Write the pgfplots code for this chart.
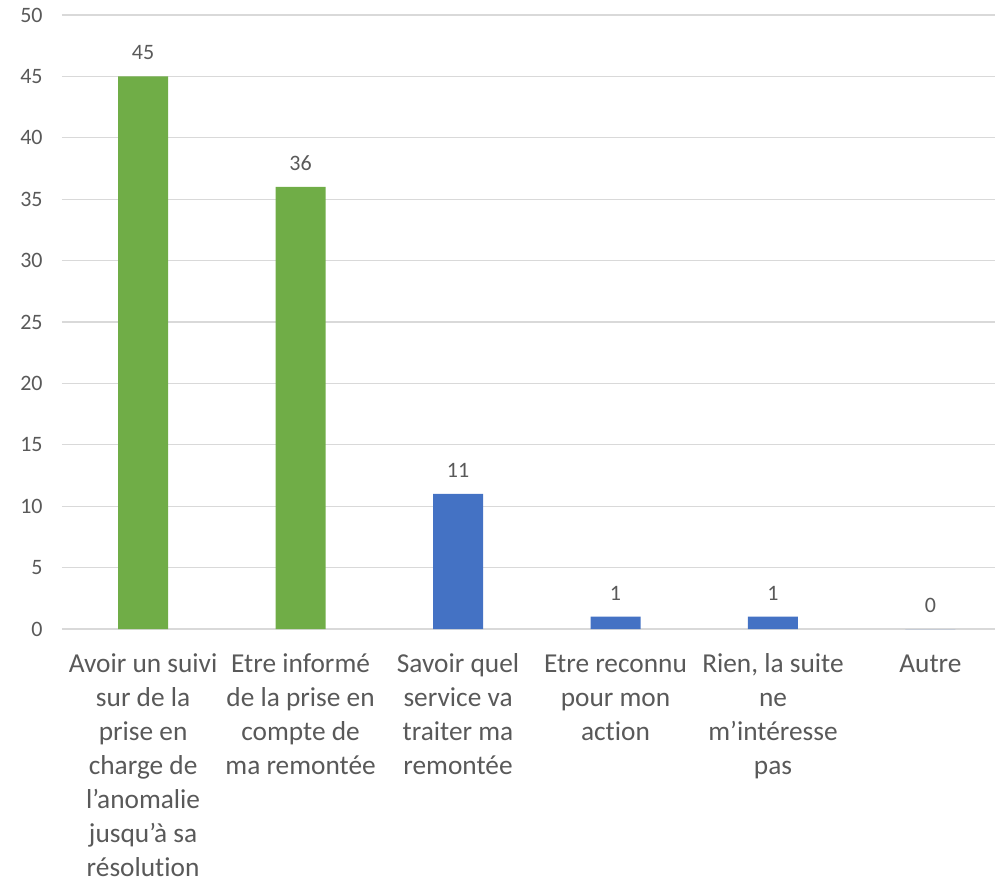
\documentclass[border=0pt]{standalone}
\usepackage{pgfplots}
\pgfplotsset{compat=1.18}
\usepackage{fontspec}
\setmainfont{Carlito}[Ligatures={NoCommon}]
\definecolor{txt}{HTML}{595959}
\definecolor{gridc}{HTML}{D9D9D9}
\definecolor{xgreen}{HTML}{70AD47}
\definecolor{xblue}{HTML}{4472C4}

\begin{document}
\begin{tikzpicture}
% page = 1002 x 885 px at 0.75pt per px
\path[use as bounding box] (0,0) rectangle (751.5pt,663.75pt);
\begin{axis}[
    at={(46.5pt,192pt)}, anchor=south west,
    scale only axis,
    width=699.75pt, height=460.5pt,
    xmin=-0.515, xmax=5.41,
    ymin=0, ymax=50,
    ytick={0,5,...,50},
    xtick={0,...,5},
    xticklabels={
        {\strut Avoir un suivi\\sur de la\\prise en\\charge de\\l’anomalie\\jusqu’à sa\\résolution},
        {\strut Etre informé\\de la prise en\\compte de\\ma remontée},
        {\strut Savoir quel\\service va\\traiter ma\\remontée},
        {\strut Etre reconnu\\pour mon\\action},
        {\strut Rien, la suite\\ne\\m’intéresse\\pas},
        {\strut Autre}},
    xticklabel style={align=center, anchor=north, yshift=-11pt,
        font=\fontsize{20.5}{25.5}\selectfont, text=txt},
    yticklabel style={font=\fontsize{16.5}{18}\selectfont, text=txt, xshift=-11pt},
    /pgf/number format/assume math mode=true,
    axis x line*=bottom,
    axis y line*=left,
    y axis line style={draw=none},
    x axis line style={gridc, line width=1.2pt},
    ymajorgrids,
    grid style={gridc, line width=1pt},
    major tick length=0pt,
    ybar, bar width=37.5pt, bar shift=0pt,
    nodes near coords,
    every node near coord/.append style={font=\fontsize{16.5}{18}\selectfont, text=txt, yshift=9pt},
    clip=false,
]
\addplot[fill=xgreen, draw=none] coordinates {(0,45) (1,36)};
\addplot[fill=xblue, draw=none] coordinates {(2,11) (3,1) (4,1) (5,0)};
\end{axis}
\end{tikzpicture}
\end{document}
